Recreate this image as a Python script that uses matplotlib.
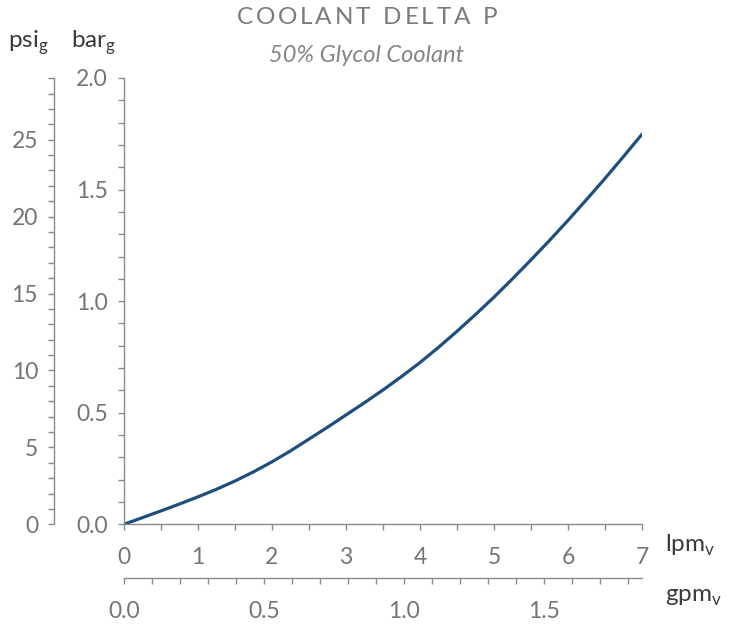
import matplotlib
matplotlib.use("Agg")
import matplotlib.pyplot as plt
from matplotlib.ticker import MultipleLocator, FormatStrFormatter

# flow (lpm) vs pressure drop (bar)
lpm = [0, 0.25, 0.5, 0.75, 1.0, 1.25, 1.5, 1.75, 2.0, 2.25, 2.5, 2.75, 3.0,
       3.25, 3.5, 3.75, 4.0, 4.25, 4.5, 4.75, 5.0, 5.25, 5.5, 5.75, 6.0,
       6.25, 6.5, 6.75, 7.0]
bar = [0, 0.030, 0.060, 0.091, 0.123, 0.157, 0.194, 0.235, 0.280, 0.329,
       0.382, 0.435, 0.490, 0.545, 0.602, 0.662, 0.725, 0.793, 0.865, 0.940,
       1.018, 1.100, 1.185, 1.272, 1.362, 1.455, 1.550, 1.648, 1.748]

psi_ticks = [0, 5, 10, 15, 20, 25]
bar_ticks = [0.0, 0.5, 1.0, 1.5, 2.0]
lpm_ticks = [0, 1, 2, 3, 4, 5, 6, 7]
gpm_ticks = [0.0, 0.5, 1.0, 1.5]

PSI_PER_BAR = 14.5038
LPM_PER_GPM = 3.78541

plt.rcParams['font.family'] = ['Lato', 'DejaVu Sans']
plt.rcParams['mathtext.fontset'] = 'custom'
plt.rcParams['mathtext.rm'] = 'Lato'

TICK_COL = '#757575'
SPINE_COL = '#8a8a8a'
LAB_COL = '#3a3a3a'
LINE_COL = '#1d4f7c'

fig = plt.figure(figsize=(7.31, 6.24), dpi=100)
ax = fig.add_axes([124/731, 1 - 524.3/624, 518/731, 446.3/624])

ax.plot(lpm, bar, color=LINE_COL, lw=2.3, solid_capstyle='round')
ax.set_xlim(0, 7)
ax.set_ylim(0, 2.0)

for s in ['top', 'right']:
    ax.spines[s].set_visible(False)

def style_axis(a, which, pad):
    for s in a.spines.values():
        s.set_color(SPINE_COL)
        s.set_linewidth(1.0)
    a.tick_params(axis=which, which='both', direction='out', length=4.5,
                  width=1.0, color=SPINE_COL, labelcolor=TICK_COL,
                  labelsize=16.5, pad=pad)

style_axis(ax, 'x', 12)
style_axis(ax, 'y', 7)
ax.set_xticks(lpm_ticks)
ax.xaxis.set_minor_locator(MultipleLocator(0.5))
ax.set_yticks(bar_ticks)
ax.yaxis.set_minor_locator(MultipleLocator(0.1))
ax.yaxis.set_major_formatter(FormatStrFormatter('%.1f'))

# psi axis to the left
psi = ax.secondary_yaxis(-70/518, functions=(lambda b: b * PSI_PER_BAR,
                                              lambda p: p / PSI_PER_BAR))
psi.set_yticks(psi_ticks)
psi.yaxis.set_minor_locator(MultipleLocator(1))
style_axis(psi, 'y', 7)

# gpm axis below
gpm = ax.secondary_xaxis(-54/446.3, functions=(lambda l: l / LPM_PER_GPM,
                                                lambda g: g * LPM_PER_GPM))
gpm.set_xticks(gpm_ticks)
gpm.xaxis.set_minor_locator(MultipleLocator(0.1))
gpm.xaxis.set_major_formatter(FormatStrFormatter('%.1f'))
style_axis(gpm, 'x', 12)

# unit labels
fig.text(8/731, 1 - 43/624, r'psi$_{\rm g}$', fontsize=17.5, color=LAB_COL,
         ha='left', va='center')
fig.text(71/731, 1 - 43/624, r'bar$_{\rm g}$', fontsize=17.5, color=LAB_COL,
         ha='left', va='center')
fig.text(665/731, 1 - 545/624, r'lpm$_{\rm v}$', fontsize=17.5, color=LAB_COL,
         ha='left', va='center')
fig.text(665/731, 1 - 597/624, r'gpm$_{\rm v}$', fontsize=17.5, color=LAB_COL,
         ha='left', va='center')

# title, letter spaced
def spaced(word):
    return r'\hspace{0.12}'.join(word)

title = r'$\mathrm{' + (r'\hspace{0.55}').join(spaced(w) for w in ['COOLANT', 'DELTA', 'P']) + '}$'
fig.text(367/731, 1 - 18/624, title, fontsize=17.5, color='#7a7a7a',
         ha='center', va='center')
fig.text(367/731, 1 - 56/624, '50% Glycol Coolant', fontsize=17,
         style='italic', color='#858585', ha='center', va='center')

fig.savefig('out.png', dpi=100)
